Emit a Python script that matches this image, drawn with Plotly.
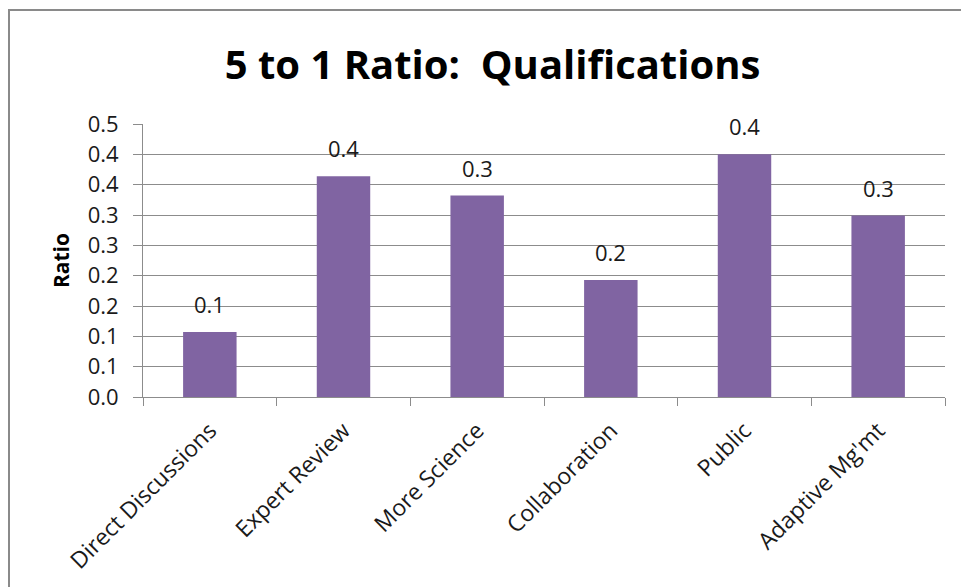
import plotly.graph_objects as go

# Chart data
categories = ["Direct Discussions", "Expert Review", "More Science",
              "Collaboration", "Public", "Adaptive Mg'mt"]
ratios = [0.107, 0.364, 0.332, 0.193, 0.400, 0.299]
y_ticks = [0.0, 0.05, 0.10, 0.15, 0.20, 0.25, 0.30, 0.35, 0.40, 0.45]
y_tick_labels = ["0.0", "0.1", "0.1", "0.2", "0.2", "0.3", "0.3", "0.4", "0.4", "0.5"]

BAR = "#8064A2"
GRID = "#8C8C8C"
TEXT = "#1A1A1A"
FONT = "Open Sans"

fig = go.Figure()
fig.add_trace(go.Bar(
    x=categories,
    y=ratios,
    marker=dict(color=BAR, line=dict(width=0)),
    width=0.4,
    hoverinfo="x+y",
))

# Value labels above each bar
for cat, val in zip(categories, ratios):
    fig.add_annotation(
        x=cat, y=val, text=f"{val:.1f}",
        showarrow=False, yanchor="bottom", yshift=11,
        font=dict(family=FONT, size=22, color=TEXT),
    )

# Outer chart frame (left and top edges visible, the rest runs off the page)
W, H = 961, 587
ml, mr, mt, mb = 143, 16, 124, 190
pw, ph = W - ml - mr, H - mt - mb
fig.add_shape(
    type="rect", xref="paper", yref="paper",
    x0=(9 - ml) / pw, x1=(W + 20 - ml) / pw,
    y0=-(mb + 20) / ph, y1=(H - mb - 10) / ph,
    line=dict(color="#8A8A8A", width=2), fillcolor="rgba(0,0,0,0)",
    layer="below",
)

fig.update_layout(
    width=W, height=H,
    margin=dict(l=ml, r=mr, t=mt, b=mb),
    paper_bgcolor="white",
    plot_bgcolor="white",
    showlegend=False,
    title=dict(
        text="<b>5 to 1 Ratio:  Qualifications</b>",
        x=(225 + 760) / 2 / W, xref="container", xanchor="center",
        y=1 - 65 / H, yref="container", yanchor="middle",
        font=dict(family=FONT, size=40, color="black"),
    ),
    xaxis=dict(
        type="category",
        showgrid=False,
        showline=True, linecolor=GRID, linewidth=1,
        ticks="outside", tickson="boundaries", ticklen=8, tickcolor=GRID,
        tickangle=-45,
        ticklabelstandoff=10,
        tickfont=dict(family=FONT, size=23, color=TEXT),
    ),
    yaxis=dict(
        range=[0, 0.45],
        tickvals=y_ticks, ticktext=y_tick_labels,
        showgrid=True, gridcolor=GRID, gridwidth=1,
        showline=True, linecolor=GRID, linewidth=1,
        ticks="outside", ticklen=9, tickcolor=GRID,
        ticklabelstandoff=10,
        tickfont=dict(family=FONT, size=22, color=TEXT),
        zeroline=False,
        title=dict(text="<b>Ratio</b>", standoff=12,
                   font=dict(family=FONT, size=21, color="black")),
    ),
)

fig.write_html("out.html")
